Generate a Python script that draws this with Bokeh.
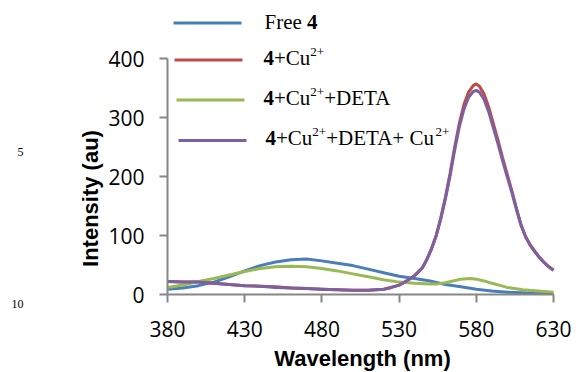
from math import pi
from bokeh.plotting import figure
from bokeh.models import Range1d, FixedTicker, Label, Arrow, LinearAxis
from bokeh.embed import file_html
from bokeh.resources import INLINE

# ---------------- data ----------------
wl_free = [380, 390, 400, 410, 420, 430, 440, 450, 460, 470, 480, 490, 500, 510, 520,
           530, 540, 550, 555, 560, 570, 580, 590, 600, 610, 620, 630]
int_free = [9, 11, 15, 21, 30, 40, 49, 55, 59, 60, 57, 53, 49, 43, 37,
            31, 27, 23, 20, 17, 13, 9, 6, 4, 3, 2, 2]

wl_cu = [380, 390, 400, 410, 420, 430, 440, 450, 460, 470, 480, 490, 500, 510, 515,
         520, 525, 530, 535, 540, 545, 548, 551, 554, 557, 560, 563, 566, 569, 572,
         575, 578, 580, 582, 585, 588, 591, 594, 597, 600, 603, 606, 609, 612, 615,
         618, 621, 624, 627, 630]
int_cu = [22, 21, 21, 19, 17, 15, 14, 13, 11, 10, 9, 8, 7, 7, 8,
          9, 12, 16, 23, 32, 45, 60, 78, 100, 130, 165, 205, 250, 290, 322,
          343, 354, 357, 353, 340, 318, 290, 262, 232, 204, 176, 146, 118, 98, 84,
          73, 63, 54, 47, 41]

wl_deta = [380, 390, 400, 410, 420, 430, 440, 450, 460, 470, 480, 490, 500, 510, 520,
           530, 540, 550, 555, 560, 565, 570, 576, 580, 585, 590, 596, 600, 610, 620, 630]
int_deta = [12, 16, 22, 27, 33, 39, 44, 47, 48, 47, 44, 40, 35, 30, 25,
            21, 19, 18, 18, 20, 23, 26, 27, 26, 23, 19, 15, 12, 8, 6, 4]

wl_recu = wl_cu
int_recu = [22, 21, 21, 19, 17, 15, 14, 12, 11, 10, 9, 8, 7, 7, 8,
            9, 12, 16, 23, 32, 45, 59, 77, 99, 128, 162, 201, 245, 284, 314,
            334, 344, 346, 343, 331, 310, 283, 256, 227, 200, 173, 144, 117, 97, 83,
            72, 62, 54, 47, 41]

x_ticks = [380, 430, 480, 530, 580, 630]
y_ticks = [0, 100, 200, 300, 400]
x_title = "Wavelength (nm)"
y_title = "Intensity (au)"

# legend entries: (text, style) with style n=normal, b=bold, s=superscript
legend_parts = [
    [("Free ", "n"), ("4", "b")],
    [("4", "b"), ("+Cu", "n"), ("2+", "s")],
    [("4", "b"), ("+Cu", "n"), ("2+", "s"), ("+DETA", "n")],
    [("4", "b"), ("+Cu", "n"), ("2+", "s"), ("+DETA+ Cu", "n"), ("2+", "s")],
]
colors = ["#4A7EBB", "#BE4B48", "#98B954", "#7D60A0"]

# ---------------- layout ----------------
W, H = 578, 372
PL, PR, PT, PB = 167, 553, 58, 294   # plot-area edges in canvas pixels
X0, X1, Y0, Y1 = x_ticks[0], x_ticks[-1], y_ticks[0], y_ticks[-1]
kx = (X1 - X0) / (PR - PL)
ky = (Y1 - Y0) / (PB - PT)

# the frame fills the whole canvas; axes sit at fixed data locations
p = figure(width=W, height=H, output_backend="svg", toolbar_location=None,
           x_axis_type=None, y_axis_type=None,
           x_range=Range1d(X0 - PL * kx, X1 + (W - PR) * kx),
           y_range=Range1d(Y0 - (H - PB) * ky, Y1 + PT * ky),
           min_border=0)
p.outline_line_color = None
p.xgrid.visible = False
p.ygrid.visible = False
p.background_fill_color = "white"
p.border_fill_color = "white"

AX = "#868686"
xaxis = LinearAxis(fixed_location=Y0, bounds=(X0, X1), ticker=FixedTicker(ticks=x_ticks))
yaxis = LinearAxis(fixed_location=X0, bounds=(Y0, Y1), ticker=FixedTicker(ticks=y_ticks))
for ax in (xaxis, yaxis):
    ax.axis_line_color = AX
    ax.axis_line_width = 2
    ax.major_tick_line_color = AX
    ax.major_tick_line_width = 2
    ax.major_tick_out = 8
    ax.major_tick_in = 0
    ax.minor_tick_line_color = None
    ax.major_label_text_font = "Open Sans"
    ax.major_label_text_font_size = "21px"
    ax.major_label_text_color = "#000000"
xaxis.major_label_standoff = 18
yaxis.major_label_standoff = 15
p.add_layout(xaxis, "below")
p.add_layout(yaxis, "left")

series = [(wl_free, int_free), (wl_cu, int_cu), (wl_deta, int_deta), (wl_recu, int_recu)]
for (xs, ys), c in zip(series, colors):
    p.line(xs, ys, line_color=c, line_width=3)


def sx(X):
    return X


def sy(Y):
    return H - Y


BASE_FIX = 0.33   # shift (in em) so that the drawn baseline lands where wanted


def text_label(txt, X, Yb, size, font, style="normal", align="left", angle=0.0):
    d = BASE_FIX * size
    if angle:
        X, Y = X - d, Yb
    else:
        X, Y = X, Yb - d
    return Label(x=sx(X), y=sy(Y), x_units="screen", y_units="screen", text=txt,
                 angle=angle, text_align=align, text_baseline="alphabetic",
                 text_font=font, text_font_style=style,
                 text_font_size=f"{size}px", text_color="black")


# axis titles
p.add_layout(text_label(x_title, 362, 365, 22, "Liberation Sans", "bold", "center"))
p.add_layout(text_label(y_title, 97, 198, 22, "Liberation Sans", "bold", "center",
                        angle=pi / 2))

# legend
CW = {'F': .556, 'r': .333, 'e': .444, ' ': .25, '4': .5, '+': .564, 'C': .667,
      'u': .5, '2': .5, 'D': .722, 'E': .611, 'T': .611, 'A': .722}
FS, SS, RAISE = 21, 13, 8
line_x = [(173, 241), (174, 242), (176, 244), (178, 246)]
line_y = [22.5, 59.5, 99.5, 140]
text_x = [264, 263, 263, 265]
text_base = [28, 64, 104, 144]

for parts, c, (x0, x1), ly, tx, tb in zip(legend_parts, colors, line_x, line_y, text_x, text_base):
    p.add_layout(Arrow(start=None, end=None, x_start=sx(x0), x_end=sx(x1),
                       y_start=sy(ly), y_end=sy(ly), start_units="screen",
                       end_units="screen", line_color=c, line_width=3))
    x = tx
    for txt, st in parts:
        size = SS if st == "s" else FS
        yb = tb - RAISE if st == "s" else tb
        p.add_layout(text_label(txt, x, yb, size, "Liberation Serif",
                                "bold" if st == "b" else "normal"))
        x += sum(CW.get(ch, .5) for ch in txt) * size

# line numbers in the margin
for txt, yb in (("5", 155), ("10", 307)):
    p.add_layout(text_label(txt, 23, yb, 12, "Liberation Serif", "normal", "right"))

open("out.html", "w").write(file_html(p, INLINE))
